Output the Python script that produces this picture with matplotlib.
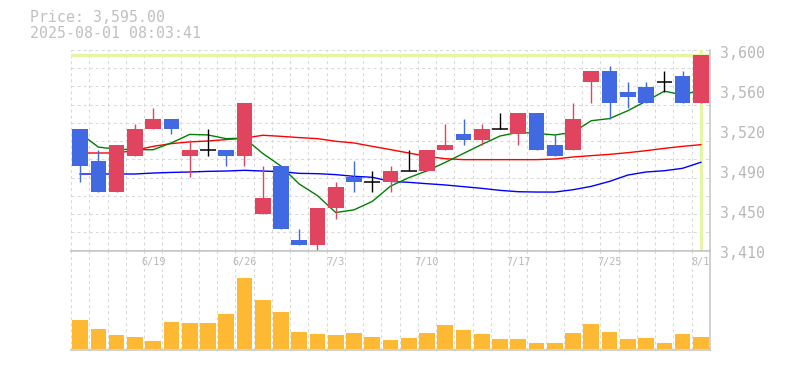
import matplotlib
matplotlib.use('Agg')
import matplotlib.pyplot as plt
import numpy as np

# ---------------- data ----------------
dates = ['6/13', '6/16', '6/17', '6/18', '6/19', '6/20', '6/23', '6/24', '6/25', '6/26',
         '6/27', '6/30', '7/1', '7/2', '7/3', '7/4', '7/7', '7/8', '7/9', '7/10',
         '7/11', '7/14', '7/15', '7/16', '7/17', '7/18', '7/22', '7/23', '7/24', '7/25',
         '7/28', '7/29', '7/30', '7/31', '8/1']
opens = [3525, 3495, 3465, 3500, 3525, 3535, 3500, 3505, 3505, 3500,
         3445, 3490, 3420, 3415, 3450, 3480, 3475, 3475, 3485, 3485,
         3505, 3520, 3515, 3525, 3520, 3540, 3510, 3505, 3570, 3580,
         3560, 3565, 3570, 3575, 3550]
highs = [3525, 3505, 3510, 3530, 3545, 3535, 3515, 3525, 3505, 3550,
         3490, 3490, 3430, 3450, 3475, 3495, 3485, 3490, 3505, 3505,
         3530, 3535, 3530, 3540, 3540, 3540, 3520, 3550, 3580, 3585,
         3570, 3570, 3580, 3580, 3595]
lows = [3475, 3465, 3465, 3500, 3525, 3520, 3480, 3500, 3490, 3490,
        3445, 3430, 3415, 3410, 3440, 3465, 3465, 3465, 3485, 3485,
        3505, 3510, 3510, 3525, 3510, 3505, 3500, 3505, 3550, 3535,
        3545, 3550, 3560, 3550, 3550]
closes = [3490, 3465, 3510, 3525, 3535, 3525, 3505, 3505, 3500, 3550,
          3460, 3430, 3415, 3450, 3470, 3475, 3475, 3485, 3485, 3505,
          3510, 3515, 3525, 3525, 3540, 3505, 3500, 3535, 3580, 3550,
          3555, 3550, 3570, 3550, 3595]
ma_short = [3521, 3508, 3506, 3505.5, 3505.5, 3512, 3520, 3519.5, 3516, 3516.5,
            3502, 3490, 3473, 3462, 3446, 3448.5, 3456.5, 3471, 3479, 3485.5,
            3493.5, 3502, 3510.5, 3518.5, 3522, 3521, 3519.5, 3522, 3533, 3535,
            3542.5, 3551.5, 3561, 3557.5, 3562]
ma_mid = [3502.4, 3502.4, 3502.4, 3504.9, 3508.7, 3511.3, 3512.9, 3513.8, 3515.1, 3516.4,
          3519.2, 3518.2, 3517.0, 3516.0, 3513.5, 3511.9, 3508.7, 3505.6, 3502.4, 3499.2,
          3497.0, 3496.1, 3496.1, 3496.1, 3496.1, 3496.1, 3496.7, 3498.6, 3499.9, 3501.1,
          3502.7, 3504.6, 3506.8, 3508.7, 3510.3]
ma_long = [3482.5, 3482.5, 3482.5, 3482.5, 3483.4, 3484.0, 3484.4, 3485.0, 3485.3, 3486.0,
           3485.3, 3484.7, 3483.1, 3482.8, 3481.9, 3480.3, 3479.4, 3475.5, 3474.6, 3473.3,
           3472.1, 3470.5, 3468.9, 3467.0, 3465.7, 3465.4, 3465.4, 3467.6, 3470.8, 3475.5,
           3481.5, 3484.4, 3485.6, 3487.9, 3493.6]
volume = [87, 60, 42, 36, 24, 81, 78, 78, 105, 213,
          147, 111, 51, 45, 42, 48, 36, 27, 33, 48,
          72, 57, 45, 30, 30, 18, 18, 48, 75, 51,
          30, 33, 18, 45, 36]
x_tick_labels = ['6/19', '6/26', '7/3', '7/10', '7/17', '7/25', '8/1']
y_tick_values = [3410, 3448, 3486, 3524, 3562, 3600]
y_tick_labels = ['3,410', '3,450', '3,490', '3,520', '3,560', '3,600']
last_price = 3595.00
timestamp = '2025-08-01 08:03:41'
y_min, y_max = 3410, 3600

# ---------------- style ----------------
UP = '#E0445E'
DOWN = '#4169E1'
VOLC = '#FDB834'
GRID = '#d9d9d9'
SPINE = '#c4c4c4'
TXT = '#b8b8b8'
YEL = '#e4f5a6'
MONO = 'DejaVu Sans Mono'
DASH = (0, (2.9, 2.9))

W, H = 785, 370
fig = plt.figure(figsize=(W / 100, H / 100), dpi=100)


def rect(l, t, r, b):
    return [l / W, 1 - b / H, (r - l) / W, (b - t) / H]


ax = fig.add_axes(rect(71, 50, 710, 250.5))
axv = fig.add_axes(rect(71, 250.5, 710, 350))

n = len(dates)
x = np.arange(n)
o = np.array(opens, float)
h = np.array(highs, float)
l = np.array(lows, float)
c = np.array(closes, float)

for a in (ax, axv):
    a.set_xlim(-0.5, n - 0.5)
    a.set_xticks([])
    a.set_yticks([])
    a.spines['left'].set_visible(False)
    for s in ('right', 'bottom', 'top'):
        a.spines[s].set_color(SPINE)
        a.spines[s].set_linewidth(1.1)
    for i in range(n):
        a.axvline(i - 0.5, color=GRID, lw=0.75, ls=DASH, zorder=0.5, clip_on=False)
ax.spines['top'].set_visible(False)

ax.set_ylim(y_min, y_max)
step = (y_max - y_min) / 11
for k in range(1, 12):
    ax.axhline(y_min + k * step, color=GRID, lw=0.75, ls=DASH, zorder=0.5, clip_on=False)

# current price markers
ax.axhline(last_price, color=YEL, lw=2.3, zorder=1)
ax.axvline(x[-1], ymin=0.0125, ymax=1, color=YEL, lw=2.3, zorder=1)

# moving averages
ax.plot(x, ma_long, color='#0000ff', lw=1.0, zorder=2)
ax.plot(x, ma_mid, color='#ff0000', lw=1.0, zorder=2)
ax.plot(x, ma_short, color='#008000', lw=1.0, zorder=2)

# candles
bw = 0.86
for i in range(n):
    if c[i] > o[i]:
        col = UP
    elif c[i] < o[i]:
        col = DOWN
    else:
        col = 'black'
    ax.vlines(x[i], l[i], h[i], color=col, lw=1.0, zorder=3)
    if col == 'black':
        ax.hlines(c[i], x[i] - bw / 2, x[i] + bw / 2, color='black', lw=1.1, zorder=4)
    else:
        ax.bar(x[i], abs(c[i] - o[i]), bottom=min(o[i], c[i]), width=bw,
               color=col, zorder=4, linewidth=0)

# y labels on the right
for v, s in zip(y_tick_values, y_tick_labels):
    ax.annotate(s, xy=(1, v), xycoords=('axes fraction', 'data'),
                xytext=(7.2, -2.2), textcoords='offset points',
                ha='left', va='center', fontsize=10.7, family=MONO, color=TXT,
                annotation_clip=False)

# volume
axv.set_ylim(-4.5, 294)
axv.bar(x, volume, width=bw, color=VOLC, zorder=2, linewidth=0)
for s in x_tick_labels:
    i = dates.index(s)
    axv.annotate(s, xy=(i, 1), xycoords=('data', 'axes fraction'),
                 xytext=(0, -8.3), textcoords='offset points',
                 ha='center', va='center', fontsize=7.3, family=MONO, color=TXT)

# header
fig.text(30 / W, 1 - 18 / H, f'Price: {last_price:,.2f}', ha='left', va='center',
         fontsize=10.7, family=MONO, color='#c0c0c0')
fig.text(30 / W, 1 - 34 / H, timestamp, ha='left', va='center',
         fontsize=10.7, family=MONO, color='#c0c0c0')

fig.savefig('out.png', dpi=100)
